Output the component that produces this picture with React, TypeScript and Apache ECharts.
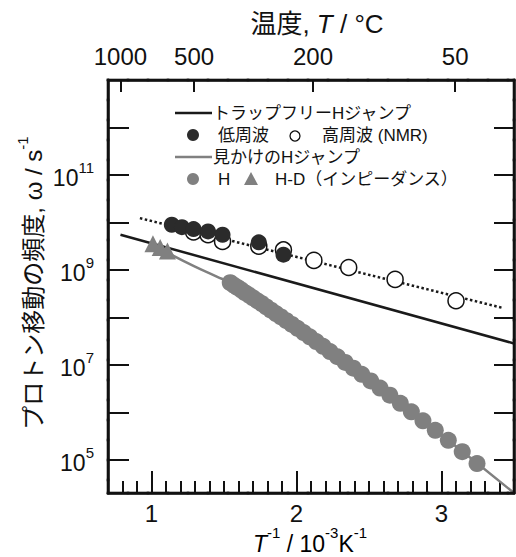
import React, { useEffect, useRef } from "react";
import * as echarts from "echarts";

// ---- axis ranges (x: 1/T in 10^-3 K^-1, y: log10 of omega in s^-1)
const X_MIN = 0.7;
const X_MAX = 3.5;
const Y_MIN = 4.3;
const Y_MAX = 13;

// ---- tick labels
const bottomTickLabels = [1, 2, 3];
const bottomMinorTicks = [0.8, 0.9, 1.1, 1.2, 1.3, 1.4, 1.5, 1.6, 1.7, 1.8, 1.9, 2.1, 2.2, 2.3, 2.4, 2.5, 2.6, 2.7, 2.8, 2.9, 3.1, 3.2, 3.3, 3.4];
const topTempLabels = [1000, 500, 200, 50]; // °C
const yTickExps = [5, 6, 7, 8, 9, 10, 11, 12];
const yLabelExps = [5, 7, 9, 11];

// ---- data: 低周波 (filled black circles)
const lowFreqX = [1.14, 1.21, 1.29, 1.39, 1.49, 1.74, 1.91];
const lowFreqLogW = [9.95, 9.9, 9.86, 9.81, 9.74, 9.58, 9.32];

// ---- data: 高周波 (NMR) (open circles)
const highFreqX = [1.29, 1.39, 1.49, 1.74, 1.91, 2.12, 2.36, 2.68, 3.1];
const highFreqLogW = [9.8, 9.74, 9.6, 9.5, 9.42, 9.2, 9.05, 8.8, 8.35];

// ---- data: H (grey circles)
const hX = [1.543, 1.567, 1.592, 1.618, 1.644, 1.672, 1.7, 1.73, 1.76, 1.792, 1.824, 1.858, 1.893, 1.93, 1.968, 2.007, 2.049, 2.091, 2.136, 2.183, 2.231, 2.282, 2.336, 2.392, 2.45, 2.512, 2.576, 2.644, 2.716, 2.792, 2.872, 2.957, 3.047, 3.143, 3.245];
const hLogW = [8.73, 8.68, 8.63, 8.58, 8.52, 8.47, 8.41, 8.35, 8.29, 8.22, 8.15, 8.08, 8.01, 7.93, 7.85, 7.77, 7.68, 7.59, 7.49, 7.39, 7.28, 7.17, 7.05, 6.93, 6.8, 6.66, 6.51, 6.36, 6.19, 6.01, 5.82, 5.62, 5.41, 5.17, 4.92];

// ---- data: H-D impedance (grey triangles)
const hdX = [1.01, 1.06, 1.11];
const hdLogW = [9.55, 9.47, 9.4];

// ---- lines
const trapFreeX = [0.786, 3.5];
const trapFreeLogW = [9.74, 7.45];
const apparentX = [1.0, 1.15, 1.3, 1.45, 1.55, 2.0, 2.5, 3.0, 3.5];
const apparentLogW = [9.55, 9.3, 9.07, 8.86, 8.71, 7.78, 6.69, 5.52, 4.3];
const nmrFitX = [0.92, 3.42];
const nmrFitLogW = [10.09, 8.2];

const FONT = "'Liberation Sans', Arial, 'Noto Sans CJK JP', sans-serif";
const DARK = "#2b2b2b";
const GREY = "#808080";
const INK = "#111";

const GRID_L = 108, GRID_R = 2, GRID_T = 80, GRID_B = 64;
const W = 516, H = 557;
const FX0 = GRID_L, FX1 = W - GRID_R, FY0 = GRID_T, FY1 = H - GRID_B;

const zip = (xs: number[], ys: number[]) => xs.map((x, i) => [x, ys[i]]);
const topPos = topTempLabels.map((t) => 1000 / (t + 273.15));

const supRich = {
  n: { fontSize: 23, fontFamily: FONT, color: INK, verticalAlign: "bottom", lineHeight: 30 },
  i: { fontSize: 23, fontFamily: FONT, color: INK, fontStyle: "italic", verticalAlign: "bottom", lineHeight: 30 },
  s: { fontSize: 15, fontFamily: FONT, color: INK, verticalAlign: "top", lineHeight: 18 },
};

const mkLine = () => ({ show: true, onZero: false, lineStyle: { color: INK, width: 2.5 } });

// frame drawn as short contiguous segments along the plot edges
function frameSegments() {
  const out: any[] = [];
  const seg = 20;
  const push = (x1: number, y1: number, x2: number, y2: number) =>
    out.push({ type: "line", z: 50, silent: true, shape: { x1, y1, x2, y2 }, style: { stroke: "#111111", lineWidth: 2.6, lineCap: "square" } });
  for (let x = FX0; x < FX1; x += seg) {
    const xe = Math.min(x + seg, FX1);
    push(x, FY0, xe, FY0);
    push(x, FY1, xe, FY1);
  }
  for (let y = FY0; y < FY1; y += seg) {
    const ye = Math.min(y + seg, FY1);
    push(FX0, y, FX0, ye);
    push(FX1, y, FX1, ye);
  }
  return out;
}

export default function App() {
  const ref = useRef<HTMLDivElement>(null);
  useEffect(() => {
    if (!ref.current) return;
    const chart = echarts.init(ref.current, null, { renderer: "svg" });
    const option: any = {
      animation: false,
      backgroundColor: "#fff",
      grid: { left: GRID_L, right: GRID_R, top: GRID_T, bottom: GRID_B, containLabel: false },
      xAxis: [
        {
          type: "value", position: "bottom", min: X_MIN, max: X_MAX,
          axisLine: mkLine(), splitLine: { show: false },
          axisTick: { show: true, inside: true, length: 22, lineStyle: { color: INK, width: 2 }, customValues: bottomTickLabels },
          axisLabel: { customValues: bottomTickLabels, fontSize: 24, fontFamily: FONT, color: INK, margin: 8 },
        },
        {
          type: "value", position: "top", min: X_MIN, max: X_MAX,
          axisLine: mkLine(), splitLine: { show: false },
          axisTick: { show: true, inside: true, length: 12, lineStyle: { color: INK, width: 2 }, customValues: topPos },
          axisLabel: {
            customValues: topPos, fontSize: 24, fontFamily: FONT, color: INK, margin: 12,
            formatter: (v: number) => {
              let best = 0;
              topPos.forEach((p, i) => { if (Math.abs(p - v) < Math.abs(topPos[best] - v)) best = i; });
              return String(topTempLabels[best]);
            },
          },
        },
        {
          type: "value", position: "bottom", min: X_MIN, max: X_MAX,
          axisLine: { show: false }, splitLine: { show: false },
          axisTick: { show: true, inside: true, length: 12, lineStyle: { color: INK, width: 2 }, customValues: bottomMinorTicks },
          axisLabel: { show: false },
        },
      ],
      yAxis: [
        {
          type: "value", position: "left", min: Y_MIN, max: Y_MAX,
          axisLine: mkLine(), splitLine: { show: false },
          axisTick: { show: true, inside: true, length: 21, lineStyle: { color: INK, width: 2 }, customValues: yTickExps },
          axisLabel: {
            customValues: yLabelExps, margin: 14,
            formatter: (v: number) => `{n|10}{s|${Math.round(v)}}`,
            rich: supRich,
          },
        },
        {
          type: "value", position: "right", min: Y_MIN, max: Y_MAX,
          axisLine: mkLine(), splitLine: { show: false },
          axisTick: { show: true, inside: true, length: 20, lineStyle: { color: INK, width: 2 }, customValues: yTickExps },
          axisLabel: { show: false },
        },
      ],
      series: [
        {
          name: "見かけのHジャンプ", type: "line", data: zip(apparentX, apparentLogW), smooth: true,
          showSymbol: false, symbol: "none", lineStyle: { color: GREY, width: 2.5 }, z: 2,
        },
        {
          name: "トラップフリーHジャンプ", type: "line", data: zip(trapFreeX, trapFreeLogW),
          symbol: "none", lineStyle: { color: "#1a1a1a", width: 2.5 }, z: 2,
        },
        {
          name: "NMR fit", type: "line", data: zip(nmrFitX, nmrFitLogW),
          symbol: "none", lineStyle: { color: "#1a1a1a", width: 2.5, type: [2.5, 2.5] }, z: 2,
        },
        {
          name: "高周波 (NMR)", type: "scatter", data: zip(highFreqX, highFreqLogW), symbol: "circle", symbolSize: 16,
          itemStyle: { color: "#fff", borderColor: INK, borderWidth: 1.5, opacity: 1 }, z: 3,
        },
        {
          name: "低周波", type: "scatter", data: zip(lowFreqX, lowFreqLogW), symbol: "circle", symbolSize: 16,
          itemStyle: { color: DARK, opacity: 1 }, z: 4,
        },
        {
          name: "H", type: "scatter", data: zip(hX, hLogW), symbol: "circle", symbolSize: 17,
          itemStyle: { color: GREY, opacity: 1 }, z: 4,
        },
        {
          name: "H-D（インピーダンス）", type: "scatter", data: zip(hdX, hdLogW), symbol: "triangle", symbolSize: [17, 17],
          itemStyle: { color: GREY, opacity: 1 }, z: 4,
        },
      ],
      graphic: [
        ...frameSegments(),
        // legend
        { type: "line", shape: { x1: 175, y1: 113, x2: 212, y2: 113 }, style: { stroke: "#1a1a1a", lineWidth: 2.5 } },
        { type: "text", x: 213, y: 113, style: { text: "トラップフリーHジャンプ", fontSize: 17, fontFamily: FONT, fill: INK, align: "left", verticalAlign: "middle", textAlign: "left", textVerticalAlign: "middle" } },
        { type: "circle", shape: { cx: 193, cy: 135, r: 6 }, style: { fill: DARK } },
        { type: "text", x: 218, y: 135, style: { text: "低周波", fontSize: 17, fontFamily: FONT, fill: INK, align: "left", verticalAlign: "middle", textAlign: "left", textVerticalAlign: "middle" } },
        { type: "circle", shape: { cx: 295, cy: 136, r: 5 }, style: { fill: "#fff", stroke: INK, lineWidth: 1.3 } },
        { type: "text", x: 322, y: 135, style: { text: "高周波 (NMR)", fontSize: 17, fontFamily: FONT, fill: INK, align: "left", verticalAlign: "middle", textAlign: "left", textVerticalAlign: "middle" } },
        { type: "line", shape: { x1: 175, y1: 157, x2: 212, y2: 157 }, style: { stroke: GREY, lineWidth: 2.5 } },
        { type: "text", x: 213, y: 157, style: { text: "見かけのHジャンプ", fontSize: 17, fontFamily: FONT, fill: INK, align: "left", verticalAlign: "middle", textAlign: "left", textVerticalAlign: "middle" } },
        { type: "circle", shape: { cx: 193, cy: 179, r: 6 }, style: { fill: GREY } },
        { type: "text", x: 218, y: 179, style: { text: "H", fontSize: 17, fontFamily: FONT, fill: INK, align: "left", verticalAlign: "middle", textAlign: "left", textVerticalAlign: "middle" } },
        { type: "polygon", shape: { points: [[251, 172], [258, 185], [244, 185]] }, style: { fill: GREY } },
        { type: "text", x: 275, y: 179, style: { text: "H-D（インピーダンス）", fontSize: 17, fontFamily: FONT, fill: INK, align: "left", verticalAlign: "middle", textAlign: "left", textVerticalAlign: "middle" } },
        // titles
        {
          type: "text", x: 317, y: 24,
          style: {
            text: "{n|温度, }{i|T}{n| / °C}", align: "center", verticalAlign: "middle", textAlign: "center", textVerticalAlign: "middle",
            rich: {
              n: { fontSize: 26, fontFamily: FONT, fill: INK, color: INK },
              i: { fontSize: 26, fontFamily: FONT, fill: INK, color: INK, fontStyle: "italic" },
            },
          },
        },
        {
          type: "text", x: 310, y: 540,
          style: {
            text: "{i|T}{s|-1}{n| / 10}{s|-3}{n|K}{s|-1}", align: "center", verticalAlign: "middle", textAlign: "center", textVerticalAlign: "middle",
            rich: supRich,
          },
        },
        {
          type: "text", x: 30, y: 283, rotation: Math.PI / 2,
          style: {
            text: "{n|プロトン移動の頻度, ω / s}{s|-1}", align: "center", verticalAlign: "middle", textAlign: "center", textVerticalAlign: "middle",
            rich: {
              n: { fontSize: 24, fontFamily: FONT, color: INK, fill: INK, verticalAlign: "bottom", lineHeight: 30 },
              s: { fontSize: 15, fontFamily: FONT, color: INK, fill: INK, verticalAlign: "top", lineHeight: 18 },
            },
          },
        },
      ],
    };
    chart.setOption(option);
    return () => chart.dispose();
  }, []);
  return <div ref={ref} style={{ position: "fixed", left: 0, top: 0, width: W, height: H, background: "#fff" }} />;
}
